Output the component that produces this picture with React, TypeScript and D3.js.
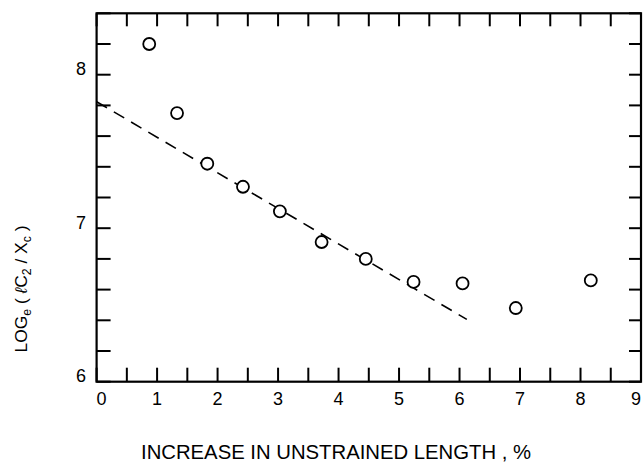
import React, { useEffect, useRef } from "react";
import * as d3 from "d3";

// values
const strainPct = [0.87, 1.33, 1.83, 2.42, 3.03, 3.72, 4.45, 5.24, 6.05, 6.93, 8.17];
const logRatio = [8.2, 7.75, 7.42, 7.27, 7.11, 6.91, 6.8, 6.65, 6.64, 6.48, 6.66];
const fitX = [0, 6.12];
const fitY = [7.824, 6.406];
const xTickLabels = ["0", "1", "2", "3", "4", "5", "6", "7", "8", "9"];
const yTickLabels = ["6", "7", "8"];

const W = 643;
const H = 462;
const FONT = "'Liberation Sans', 'DejaVu Sans', Arial, sans-serif";

const App = () => {
  const ref = useRef<SVGSVGElement | null>(null);

  useEffect(() => {
    const svg = d3.select(ref.current);
    svg.selectAll("*").remove();

    const x = d3.scaleLinear().domain([0, 9]).range([96.6, 641]);
    const y = d3.scaleLinear().domain([6, 8.4]).range([381.7, 13.3]);

    const xMinor = d3.range(0, 9.01, 0.5);
    const yMinor = d3.range(6, 8.41, 0.2).map((v) => +v.toFixed(1));

    const tick = 14;
    const g = svg.append("g").attr("stroke", "#000").attr("fill", "none");

    // frame
    g.append("rect")
      .attr("x", x(0))
      .attr("y", y(8.4))
      .attr("width", x(9) - x(0))
      .attr("height", y(6) - y(8.4))
      .attr("stroke-width", 2.2);

    // inward ticks, all four sides
    xMinor.forEach((v) => {
      g.append("line").attr("x1", x(v)).attr("x2", x(v)).attr("y1", y(6)).attr("y2", y(6) - tick).attr("stroke-width", 2);
      g.append("line").attr("x1", x(v)).attr("x2", x(v)).attr("y1", y(8.4)).attr("y2", y(8.4) + tick - 1).attr("stroke-width", 2);
    });
    yMinor.forEach((v) => {
      g.append("line").attr("x1", x(0)).attr("x2", x(0) + tick).attr("y1", y(v)).attr("y2", y(v)).attr("stroke-width", 2);
      g.append("line").attr("x1", x(9)).attr("x2", x(9) - tick + 2).attr("y1", y(v)).attr("y2", y(v)).attr("stroke-width", 2);
    });

    // tick labels (first and last kept inside the frame, as in the original)
    const t = svg.append("g").attr("font-family", FONT).attr("fill", "#000");
    t.selectAll("text.xl")
      .data(xTickLabels)
      .enter()
      .append("text")
      .attr("class", "xl")
      .attr("x", (d) => x(+d))
      .attr("y", 405)
      .attr("text-anchor", (d, i) => (i === 0 ? "start" : i === xTickLabels.length - 1 ? "end" : "middle"))
      .attr("font-size", 18)
      .text((d) => d);
    t.selectAll("text.yl")
      .data(yTickLabels)
      .enter()
      .append("text")
      .attr("class", "yl")
      .attr("x", 86)
      .attr("y", (d) => y(+d) + 0.5)
      .attr("text-anchor", "end")
      .attr("font-size", 18)
      .text((d) => d);

    // fitted dashed line
    const line = d3
      .line<number>()
      .x((d) => x(d))
      .y((d, i) => y(fitY[i]));
    svg.append("path")
      .attr("d", line(fitX))
      .attr("fill", "none")
      .attr("stroke", "#000")
      .attr("stroke-width", 1.6)
      .attr("stroke-dasharray", "12 8");

    // points
    svg.append("g")
      .selectAll("circle")
      .data(strainPct)
      .enter()
      .append("circle")
      .attr("cx", (d) => x(d))
      .attr("cy", (d, i) => y(logRatio[i]))
      .attr("r", 6)
      .attr("fill", "#fff")
      .attr("stroke", "#000")
      .attr("stroke-width", 1.8);

    // x title
    svg.append("text")
      .attr("x", 141)
      .attr("y", 459)
      .attr("font-family", FONT)
      .attr("font-size", 20)
      .attr("textLength", 390)
      .attr("lengthAdjust", "spacingAndGlyphs")
      .text("INCREASE IN UNSTRAINED LENGTH , %");

    // y title with subscripts
    const yt = svg.append("text")
      .attr("transform", "translate(27,289) rotate(-90)")
      .attr("text-anchor", "middle")
      .attr("font-family", FONT)
      .attr("font-size", 17)
      .attr("textLength", 127)
      .attr("lengthAdjust", "spacingAndGlyphs");
    yt.append("tspan").text("LOG");
    yt.append("tspan").attr("font-size", 12).attr("dy", 4).text("e");
    yt.append("tspan").attr("dy", -4).text(" ( ");
    yt.append("tspan").attr("font-style", "italic").text("ℓ");
    yt.append("tspan").text("C");
    yt.append("tspan").attr("font-size", 12).attr("dy", 4).text("2");
    yt.append("tspan").attr("dy", -4).text(" / X");
    yt.append("tspan").attr("font-size", 12).attr("dy", 4).text("c");
    yt.append("tspan").attr("dy", -4).text(" )");
  }, []);

  return (
    <svg
      ref={ref}
      width={W}
      height={H}
      style={{ position: "absolute", left: 0, top: 0, background: "#fff" }}
    />
  );
};

export default App;
